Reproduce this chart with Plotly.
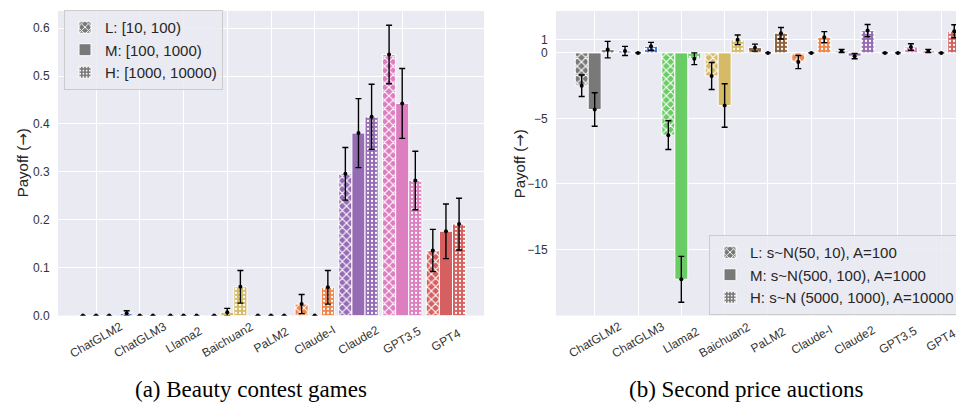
import plotly.graph_objects as go

# ---------------- data ----------------
models = ["ChatGLM2", "ChatGLM3", "Llama2", "Baichuan2", "PaLM2",
          "Claude-I", "Claude2", "GPT3.5", "GPT4"]
model_colors = ["#797979", "#4878d0", "#6acc64", "#d5bb67", "#8c613c",
                "#ee854a", "#956cb4", "#dc7ec0", "#d65f5f"]

# (a) Beauty contest games
beauty_L = [0, 0.005, 0, 0, 0, 0.024, 0.296, 0.545, 0.136]
beauty_L_err = [0, 0.005, 0, 0, 0, 0.020, 0.055, 0.061, 0.044]
beauty_M = [0, 0, 0, 0.007, 0, 0, 0.381, 0.443, 0.176]
beauty_M_err = [0, 0, 0, 0.008, 0, 0, 0.072, 0.073, 0.057]
beauty_H = [0, 0, 0, 0.060, 0, 0.059, 0.415, 0.282, 0.191]
beauty_H_err = [0, 0, 0, 0.034, 0, 0.035, 0.068, 0.061, 0.054]
beauty_labels = ["L: [10, 100)", "M: [100, 1000)", "H: [1000, 10000)"]
beauty_yticks = [0, 0.1, 0.2, 0.3, 0.4, 0.5, 0.6]

# (b) Second price auctions
auction_L = [-2.51, 0.15, -6.28, -1.76, 0.40, -0.70, 0.15, 0, 0.15]
auction_L_err = [0.82, 0.35, 1.10, 1.03, 0.27, 0.50, 0.12, 0, 0.12]
auction_M = [-4.32, 0, -17.28, -4.02, 0, 0, -0.25, 0, 0]
auction_M_err = [1.28, 0, 1.75, 1.66, 0, 0, 0.20, 0, 0]
auction_H = [0.25, 0.50, -0.45, 1.00, 1.50, 1.20, 1.70, 0.45, 1.65]
auction_H_err = [0.63, 0.30, 0.45, 0.37, 0.44, 0.42, 0.47, 0.25, 0.50]
auction_labels = ["L: s~N(50, 10), A=100", "M: s~N(500, 100), A=1000",
                  "H: s~N (5000, 1000), A=10000"]
auction_yticks = [-15, -10, -5, 0, 1]
auction_yticktext = ["\u221215", "\u221210", "\u22125", "0", "1"]

subtitles = ["(a) Beauty contest games", "(b) Second price auctions"]
ytitle = "Payoff (<span style='font-family:DejaVu Sans'>\u2192</span>)"

# ---------------- styling ----------------
BG = "#EAEAF2"
SANS = "Liberation Sans, Arial, sans-serif"
SERIF = "Liberation Serif, Times New Roman, serif"
TXT = "#262626"
W, H = 964, 404
offsets = [-0.3, 0.0, 0.3]


def pattern(k, color):
    if k == 0:
        return dict(shape="x", size=6, solidity=0.35, fgcolor="white", fgopacity=1,
                    bgcolor=color, fillmode="overlay")
    if k == 2:
        return dict(shape=".", size=4, solidity=0.25, fgcolor="white", fgopacity=1,
                    bgcolor=color, fillmode="overlay")
    return dict(shape="")


fig = go.Figure()
idx = list(range(len(models)))

panels = [
    dict(vals=[beauty_L, beauty_M, beauty_H], errs=[beauty_L_err, beauty_M_err, beauty_H_err],
         labels=beauty_labels, xa="x", ya="y", legend="legend"),
    dict(vals=[auction_L, auction_M, auction_H], errs=[auction_L_err, auction_M_err, auction_H_err],
         labels=auction_labels, xa="x2", ya="y2", legend="legend2"),
]

for p, panel in enumerate(panels):
    for k in range(3):
        for i in idx:
            fig.add_trace(go.Bar(
                x=[i + offsets[k]], y=[panel["vals"][k][i]], width=0.3,
                name=panel["labels"][k],
                marker=dict(color=model_colors[i], line=dict(color="white", width=1),
                            pattern=pattern(k, model_colors[i])),
                xaxis=panel["xa"], yaxis=panel["ya"], legend=panel["legend"],
                legendrank=k + 1, showlegend=(i == 0), hoverinfo="skip"))
    for k in range(3):
        xs = [i + offsets[k] for i in idx]
        fig.add_trace(go.Scatter(
            x=xs, y=panel["vals"][k], mode="markers",
            marker=dict(color="black", size=4),
            error_y=dict(type="data", array=panel["errs"][k], visible=True,
                         color="black", thickness=1.4, width=3),
            xaxis=panel["xa"], yaxis=panel["ya"], showlegend=False, hoverinfo="skip"))

ydom = [1 - 313 / H, 1 - 3 / H]
common_x = dict(tickvals=idx, showticklabels=False, showgrid=True, gridcolor="white",
                gridwidth=1.2, zeroline=False, showline=False, ticks="")
common_y = dict(showgrid=True, gridcolor="white", gridwidth=1.2, zeroline=False,
                showline=False, ticks="outside", ticklen=5, tickcolor="rgba(0,0,0,0)",
                tickfont=dict(family=SANS, size=12, color="#333333"))

legend_common = dict(xanchor="left", yanchor="top", bgcolor="rgba(234,234,242,0.85)",
                     bordercolor="rgba(200,200,200,0.9)", borderwidth=1,
                     font=dict(family=SANS, size=15, color=TXT), tracegroupgap=0,
                     itemwidth=30)

fig.update_layout(
    width=W, height=H, margin=dict(l=0, r=0, t=0, b=0),
    paper_bgcolor="white", plot_bgcolor=BG, barmode="overlay",
    font=dict(family=SANS, color=TXT),
    xaxis=dict(domain=[50 / W, 476 / W], range=[-0.87, 8.87], anchor="y", **common_x),
    yaxis=dict(domain=ydom, range=[0, 0.636], tickvals=beauty_yticks, tickformat=".1f",
               anchor="x", **common_y),
    xaxis2=dict(domain=[548 / W, 1.0], range=[-0.893, 8.71], anchor="y2", **common_x),
    yaxis2=dict(domain=ydom, range=[-20.05, 3.2], tickvals=auction_yticks,
                ticktext=auction_yticktext, anchor="x2", **common_y),
    legend=dict(x=56 / W, y=1 - 2 / H, **legend_common),
    legend2=dict(x=701 / W, y=1 - 231 / H, **legend_common),
)

annotations = []
# rotated category labels centred on the ticks
for xa in ["x", "x2"]:
    for i, m in enumerate(models):
        annotations.append(dict(x=i, xref=xa, y=1 - 337.5 / H, yref="paper", text=m,
                                showarrow=False, textangle=-30, xanchor="center",
                                yanchor="middle", font=dict(family=SANS, size=12, color="#333333")))
# y-axis titles
annotations.append(dict(x=15 / W, y=1 - 158 / H, xref="paper", yref="paper", text=ytitle,
                        showarrow=False, textangle=-90, xanchor="center", yanchor="middle",
                        font=dict(family=SANS, size=15, color=TXT)))
annotations.append(dict(x=512 / W, y=1 - 159 / H, xref="paper", yref="paper", text=ytitle,
                        showarrow=False, textangle=-90, xanchor="center", yanchor="middle",
                        font=dict(family=SANS, size=15, color=TXT)))
# subtitles
annotations.append(dict(x=243 / W, y=1 - 388 / H, xref="paper", yref="paper", text=subtitles[0],
                        showarrow=False, xanchor="center", yanchor="middle",
                        font=dict(family=SERIF, size=23, color="black")))
annotations.append(dict(x=738 / W, y=1 - 388 / H, xref="paper", yref="paper", text=subtitles[1],
                        showarrow=False, xanchor="center", yanchor="middle",
                        font=dict(family=SERIF, size=23, color="black")))
fig.update_layout(annotations=annotations)

fig.write_html("out.html")
